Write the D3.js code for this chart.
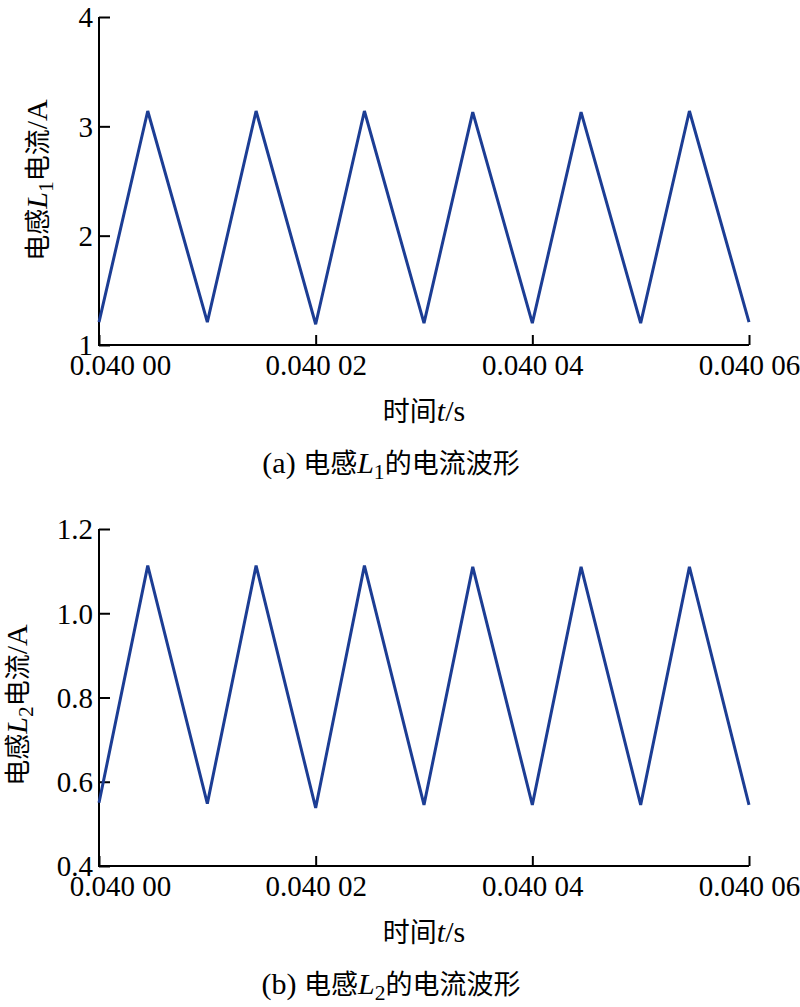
<!DOCTYPE html>
<html><head><meta charset="utf-8">
<script src="https://cdn.jsdelivr.net/npm/d3@7"></script>
<style>
body{margin:0;background:#fff;}
svg text{fill:#000;}
.serif{font-family:"Liberation Serif","Times New Roman",Times,"DejaVu Serif",serif;}
.cjk{font-family:"Noto Sans CJK SC","Noto Sans CJK JP",sans-serif;}
</style></head>
<body>
<svg id="c" width="800" height="1007"></svg>
<script>
// ---- data ----
const timeMicros = [0, 4.5, 10, 14.5, 20, 24.5, 30, 34.5, 40, 44.5, 50, 54.5, 60];
const currentL1 = [1.21, 3.14, 1.21, 3.14, 1.19, 3.14, 1.2, 3.13, 1.2, 3.13, 1.2, 3.14, 1.21];
const currentL2 = [0.55, 1.113, 0.548, 1.113, 0.538, 1.113, 0.545, 1.11, 0.545, 1.11, 0.545, 1.11, 0.545];
const xTickValues = [0.04, 0.04002, 0.04004, 0.04006];
const xTickLabels = ["0.040 00", "0.040 02", "0.040 04", "0.040 06"];
const yTicksL1 = [1, 2, 3, 4];
const yTickLabelsL1 = ["1", "2", "3", "4"];
const yTicksL2 = [0.4, 0.6, 0.8, 1.0, 1.2];
const yTickLabelsL2 = ["0.4", "0.6", "0.8", "1.0", "1.2"];

const svg = d3.select("#c");
const lineColor = "#1c3d94";

function richText(g, parts, fs, cfs) {
  parts.forEach(p => {
    const t = g.append("tspan").text(p.t);
    if (p.c) t.attr("class", "cjk").style("font-size", cfs + "px");
    else t.attr("class", "serif").style("font-size", fs + "px");
    if (p.i) t.style("font-style", "italic");
    if (p.sub) t.style("font-size", (fs * 0.72) + "px").attr("baseline-shift", "-25%");
  });
}

function panel(cfg) {
  const x = d3.scaleLinear().domain([0.04, 0.04006]).range([99, 749]);
  const y = d3.scaleLinear().domain(cfg.yDomain).range([cfg.yBottom, cfg.yTop]);
  const g = svg.append("g");

  const xAxis = d3.axisBottom(x).tickValues(xTickValues)
    .tickFormat((d, i) => xTickLabels[i]).tickSizeInner(-10).tickSizeOuter(0).tickPadding(0);
  const gx = g.append("g").attr("transform", `translate(0,${cfg.yBottom})`).call(xAxis);
  gx.attr("font-family", null);
  gx.select(".domain").attr("stroke", "#000").attr("stroke-width", 2);
  gx.selectAll(".tick line").attr("stroke", "#000").attr("stroke-width", 2);
  gx.selectAll(".tick text").attr("class", "serif").style("font-size", "29px")
    .attr("y", 30).attr("dy", 0).attr("fill", "#000")
    .attr("dx", (d, i) => i === 0 ? 21 : 0);

  const yAxis = d3.axisLeft(y).tickValues(cfg.yTicks)
    .tickFormat((d, i) => cfg.yLabels[i]).tickSizeInner(-11).tickSizeOuter(0).tickPadding(0);
  const gy = g.append("g").attr("transform", `translate(99,0)`).call(yAxis);
  gy.attr("font-family", null);
  gy.select(".domain").attr("stroke", "#000").attr("stroke-width", 2);
  gy.selectAll(".tick line").attr("stroke", "#000").attr("stroke-width", 2);
  gy.selectAll(".tick text").attr("class", "serif").style("font-size", "29px")
    .attr("x", -6).attr("dy", "0.34em").attr("fill", "#000");
  gx.select(".domain").attr("d", `M98,0H${x(0.04006)}`);
  gy.select(".domain").attr("d", `M0,${cfg.yTop}V${cfg.yBottom + 1}`);

  const line = d3.line().x((d, i) => x(0.04 + timeMicros[i] * 1e-6)).y(d => y(d));
  g.append("path").datum(cfg.values).attr("d", line)
    .attr("fill", "none").attr("stroke", lineColor).attr("stroke-width", 3)
    .attr("stroke-linejoin", "miter");

  const yt = g.append("text").attr("text-anchor", "middle")
    .attr("transform", `translate(${cfg.yTitleX},${cfg.yTitleY}) rotate(-90)`)
    .attr("dy", "0.35em");
  richText(yt, [{t: "电感", c: 1}, {t: "L", i: 1}, {t: cfg.sub, sub: 1}, {t: "电流", c: 1}, {t: "/A"}], 30, 26);

  const xt = g.append("text").attr("text-anchor", "middle")
    .attr("x", 424).attr("y", cfg.yBottom + 76);
  richText(xt, [{t: "时间", c: 1}, {t: "t", i: 1}, {t: "/s"}], 30, 27);

  const ct = g.append("text").attr("text-anchor", "middle")
    .attr("x", 391).attr("y", cfg.yBottom + 128);
  richText(ct, [{t: cfg.cap}, {t: "电感", c: 1}, {t: "L", i: 1}, {t: cfg.sub, sub: 1}, {t: "的电流波形", c: 1}], 30, 27);
}

panel({yDomain: [1, 4], yTop: 17, yBottom: 345, yTicks: yTicksL1, yLabels: yTickLabelsL1,
  values: currentL1, sub: "1", yTitleX: 41, yTitleY: 180, cap: "(a) "});
panel({yDomain: [0.4, 1.2], yTop: 529, yBottom: 866, yTicks: yTicksL2, yLabels: yTickLabelsL2,
  values: currentL2, sub: "2", yTitleX: 21, yTitleY: 705, cap: "(b) "});
</script>
</body></html>
